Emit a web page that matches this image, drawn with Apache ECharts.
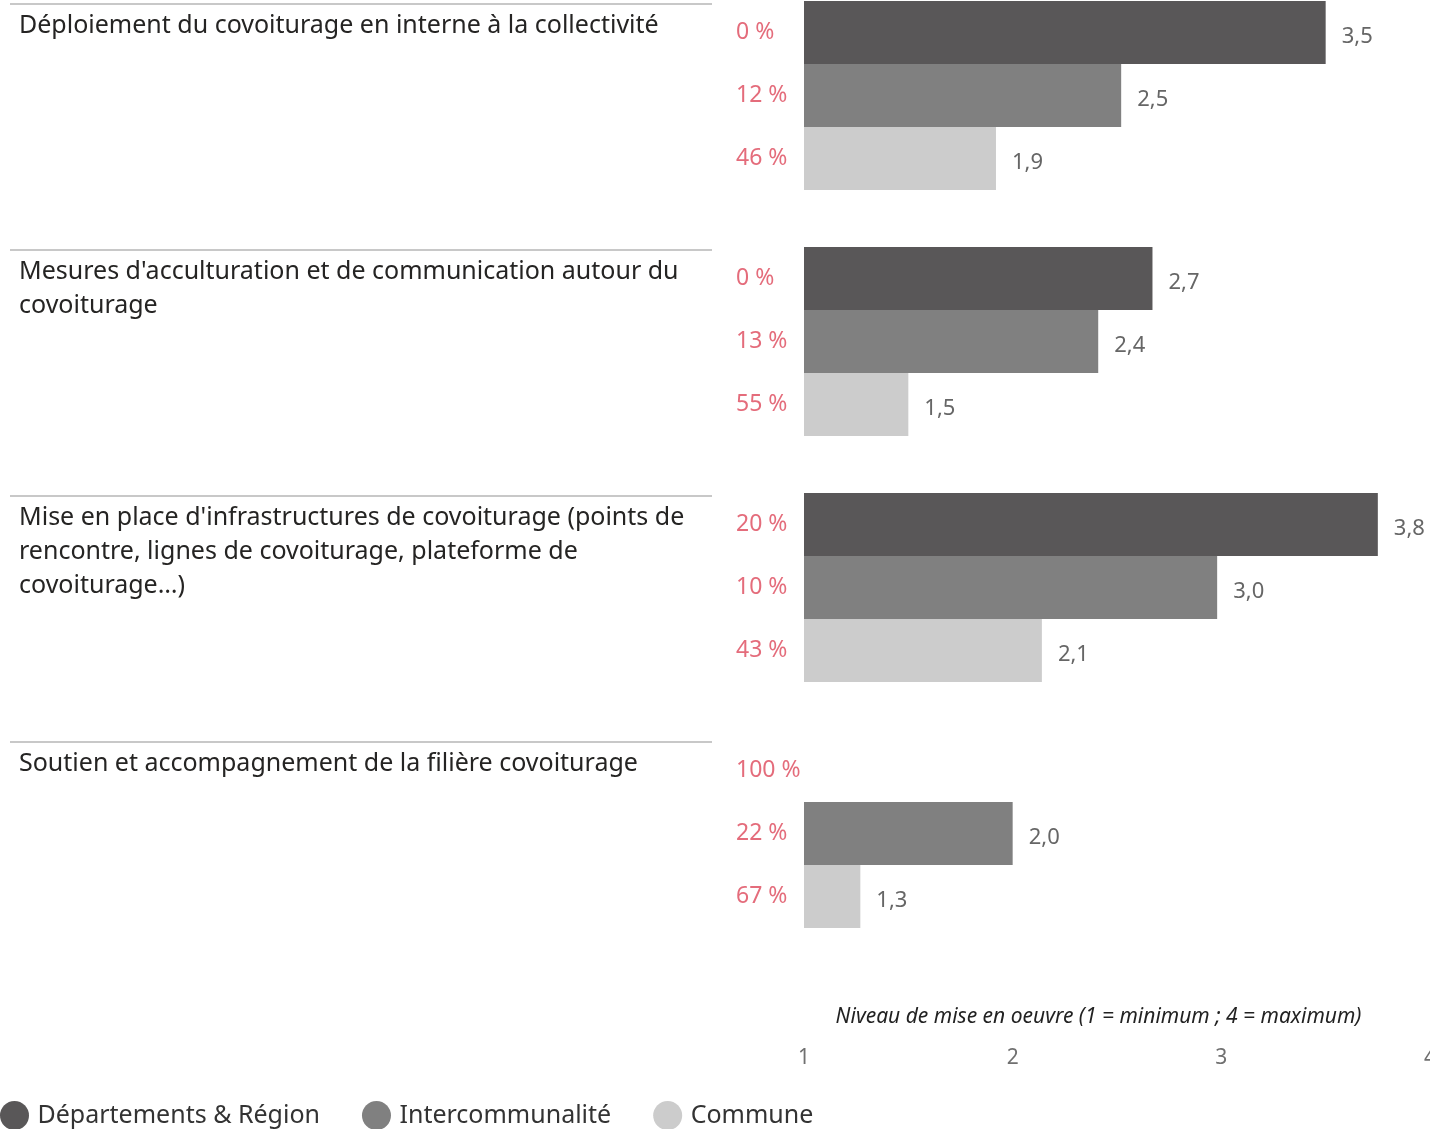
<!DOCTYPE html>
<html>
<head>
<meta charset="utf-8">
<title>Covoiturage</title>
<script src="https://cdn.jsdelivr.net/npm/echarts@6/dist/echarts.min.js"></script>
<style>
  html, body { margin: 0; padding: 0; background: #fff; }
  #main { width: 1430px; height: 1129px; }
</style>
</head>
<body>
<div id="main"></div>
<script>
// categories (top to bottom)
var categories = [
    'Déploiement du covoiturage en interne à la collectivité',
    "Mesures d'acculturation et de communication autour du\ncovoiturage",
    "Mise en place d'infrastructures de covoiturage (points de\nrencontre, lignes de covoiturage, plateforme de\ncovoiturage…)",
    'Soutien et accompagnement de la filière covoiturage'
]
var seriesNames = ['Départements & Région', 'Intercommunalité', 'Commune']
var colors = ['#595758', '#808080', '#cccccc']

// niveau moyen (1..4)
var deptValues = [3.5, 2.67, 3.75, null]
var interValues = [2.52, 2.41, 2.98, 2.0]
var communeValues = [1.92, 1.5, 2.14, 1.27]

// pourcentage affiché à gauche de chaque barre
var deptPct = [0, 0, 20, 100]
var interPct = [12, 13, 10, 22]
var communePct = [46, 55, 43, 67]

var xTicks = [1, 2, 3, 4]
var axisTitle = 'Niveau de mise en oeuvre (1 = minimum ; 4 = maximum)'

var FONT = '"Noto Sans", "Open Sans", sans-serif'
var BAR_W = 63
var SPACER_W = 55   // barre vide en bas de chaque groupe -> remonte le groupe dans sa bande

var chart = echarts.init(document.getElementById('main'), null, { renderer: 'canvas' })

function valueSeries(name, data, color) {
    return {
        name: name,
        type: 'bar',
        xAxisIndex: 0,
        yAxisIndex: 0,
        barWidth: BAR_W,
        barGap: '0%',
        data: data,
        itemStyle: { color: color },
        label: {
            show: true,
            position: 'right',
            distance: 16,
            offset: [0, 4],
            color: '#666',
            fontFamily: FONT,
            fontSize: 22,
            formatter: function(p) {
                return p.value == null ? '' : p.value.toFixed(1).replace('.', ',')
            }
        }
    }
}

function pctSeries(name, data) {
    return {
        name: name,
        type: 'bar',
        xAxisIndex: 1,
        yAxisIndex: 1,
        barWidth: BAR_W,
        barGap: '0%',
        silent: true,
        data: data,
        itemStyle: { color: 'rgba(0,0,0,0)' },
        label: {
            show: true,
            position: 'left',
            distance: 68,
            align: 'left',
            color: '#e46c7b',
            fontFamily: FONT,
            fontSize: 23,
            formatter: '{c} %'
        }
    }
}

function spacer(axisIdx) {
    return {
        name: 'spacer' + axisIdx,
        type: 'bar',
        xAxisIndex: axisIdx,
        yAxisIndex: axisIdx,
        barWidth: SPACER_W,
        barGap: '0%',
        silent: true,
        data: [],
        itemStyle: { color: 'rgba(0,0,0,0)' }
    }
}

var option = {
    animation: false,
    textStyle: { fontFamily: FONT },
    grid: { left: 804, right: 0, top: 0, bottom: 145, outerBoundsMode: 'none', containLabel: false },
    legend: {
        data: seriesNames,
        left: 0,
        top: 1101,
        padding: 0,
        icon: 'circle',
        itemWidth: 36,
        itemHeight: 29,
        itemGap: 42,
        textStyle: { color: '#333', fontSize: 25, fontFamily: FONT }
    },
    xAxis: [
        {
            type: 'value',
            min: xTicks[0],
            max: xTicks[xTicks.length - 1],
            interval: 1,
            splitLine: { show: false },
            axisLine: { show: false },
            axisTick: { show: false },
            axisLabel: { margin: 64, color: '#707070', fontSize: 21, fontFamily: FONT },
            name: axisTitle,
            nameLocation: 'middle',
            nameGap: 23,
            nameMoveOverlap: false,
            nameTextStyle: {
                fontStyle: 'italic',
                color: '#222',
                fontSize: 21,
                fontFamily: FONT,
                padding: [0, 37, 0, 0]
            }
        },
        { type: 'value', min: 0, max: 100, show: false }
    ],
    yAxis: [
        {
            type: 'category',
            inverse: true,
            data: categories,
            axisLine: { show: false },
            axisTick: { show: false },
            axisLabel: { show: false }
        },
        { type: 'category', inverse: true, data: categories, show: false }
    ],
    series: [
        valueSeries(seriesNames[0], deptValues, colors[0]),
        valueSeries(seriesNames[1], interValues, colors[1]),
        valueSeries(seriesNames[2], communeValues, colors[2]),
        spacer(0),
        pctSeries('pct0', deptPct),
        pctSeries('pct1', interPct),
        pctSeries('pct2', communePct),
        spacer(1)
    ]
}
chart.setOption(option)

// libellés de catégories + filets gris, placés d'après l'axe
var graphics = []
categories.forEach(function(cat, i) {
    var cy = chart.convertToPixel({ yAxisIndex: 0 }, i)
    var groupTop = cy - (3 * BAR_W + SPACER_W) / 2
    var lineY = groupTop + 3
    graphics.push({
        type: 'line',
        silent: true,
        shape: { x1: 10, y1: lineY, x2: 712, y2: lineY },
        style: { stroke: '#c8c8c8', lineWidth: 2 }
    })
    graphics.push({
        type: 'text',
        silent: true,
        x: 19,
        y: lineY + 5,
        style: {
            text: cat,
            fill: '#252423',
            font: '25px ' + FONT,
            lineHeight: 34,
            verticalAlign: 'top'
        }
    })
})
chart.setOption({ graphic: graphics })
</script>
</body>
</html>
